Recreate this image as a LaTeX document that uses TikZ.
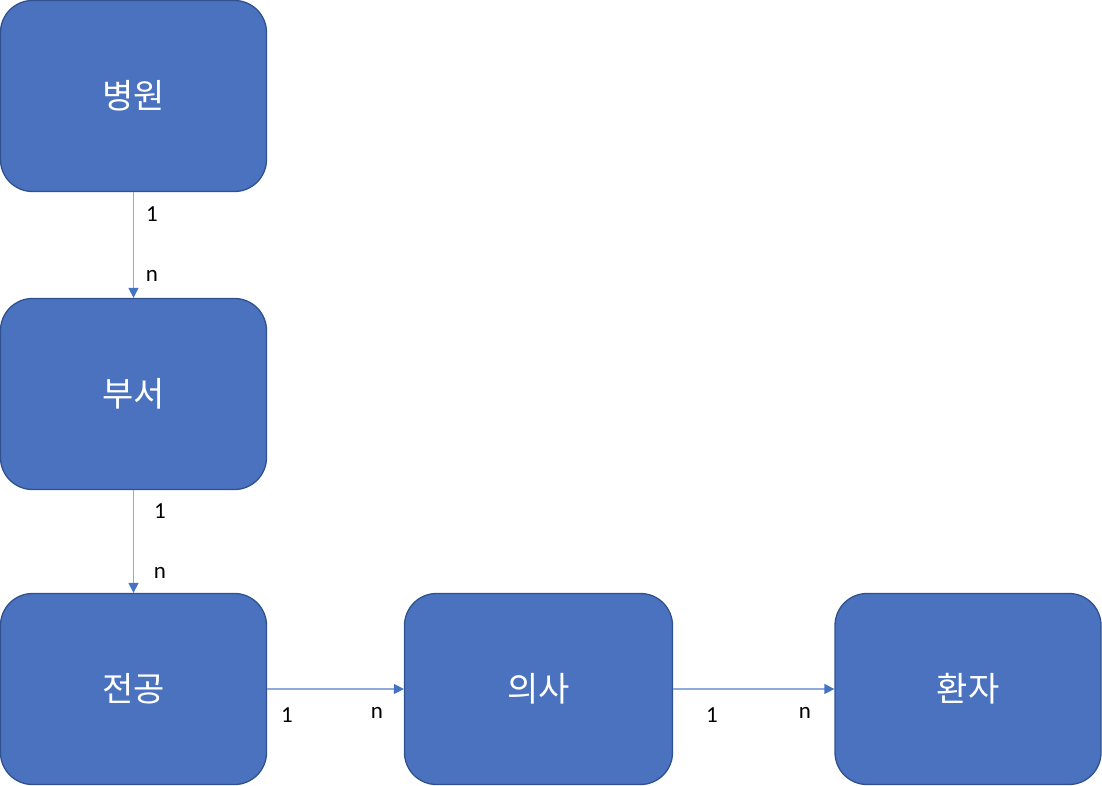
\documentclass[tikz,border=0pt]{standalone}
\usepackage{fontspec}
\setmainfont{Carlito}
\newfontfamily\kor{Noto Sans CJK KR}
\usetikzlibrary{arrows.meta}
\definecolor{boxfill}{HTML}{4A72BE}
\definecolor{boxline}{HTML}{2F528F}
\definecolor{arrline}{HTML}{8FAADC}
\definecolor{arrhead}{HTML}{4472C4}
\tikzset{
  entity/.style={draw=boxline, line width=1.3pt, fill=boxfill, rounded corners=32pt,
    minimum width=266pt, minimum height=191pt, text=white, font=\kor\fontsize{34}{40}\selectfont},
  rel/.style={draw=arrline, line width=1.4pt, -{Triangle[length=10pt,width=10pt,color=arrhead]}},
  card/.style={font=\fontsize{23}{26}\selectfont, text=black}
}
\begin{document}
\begin{tikzpicture}[x=1pt,y=-1pt]
\useasboundingbox (0,0) rectangle (1102,786);
\node[entity] (a) at (133.5,96) {병원};
\node[entity] (b) at (133.5,394) {부서};
\node[entity] (c) at (133.5,689) {전공};
\node[entity, minimum width=268pt] (d) at (538.5,689) {의사};
\node[entity] (e) at (968,689) {환자};
\draw[rel] (a.south) -- (b.north);
\draw[rel] (b.south) -- (c.north);
\draw[rel] (c.east) -- (d.west);
\draw[rel] (d.east) -- (e.west);
\node[card] (l1) at (152,214) {1};
\node[card] (l2) at (152,276) {n};
\node[card] (l3) at (160,511) {1};
\node[card] (l4) at (160,573) {n};
\node[card] (l5) at (287,715) {1};
\node[card] (l6) at (377,713) {n};
\node[card] (l7) at (712,715) {1};
\node[card] (l8) at (805,713) {n};
\end{tikzpicture}
\end{document}
